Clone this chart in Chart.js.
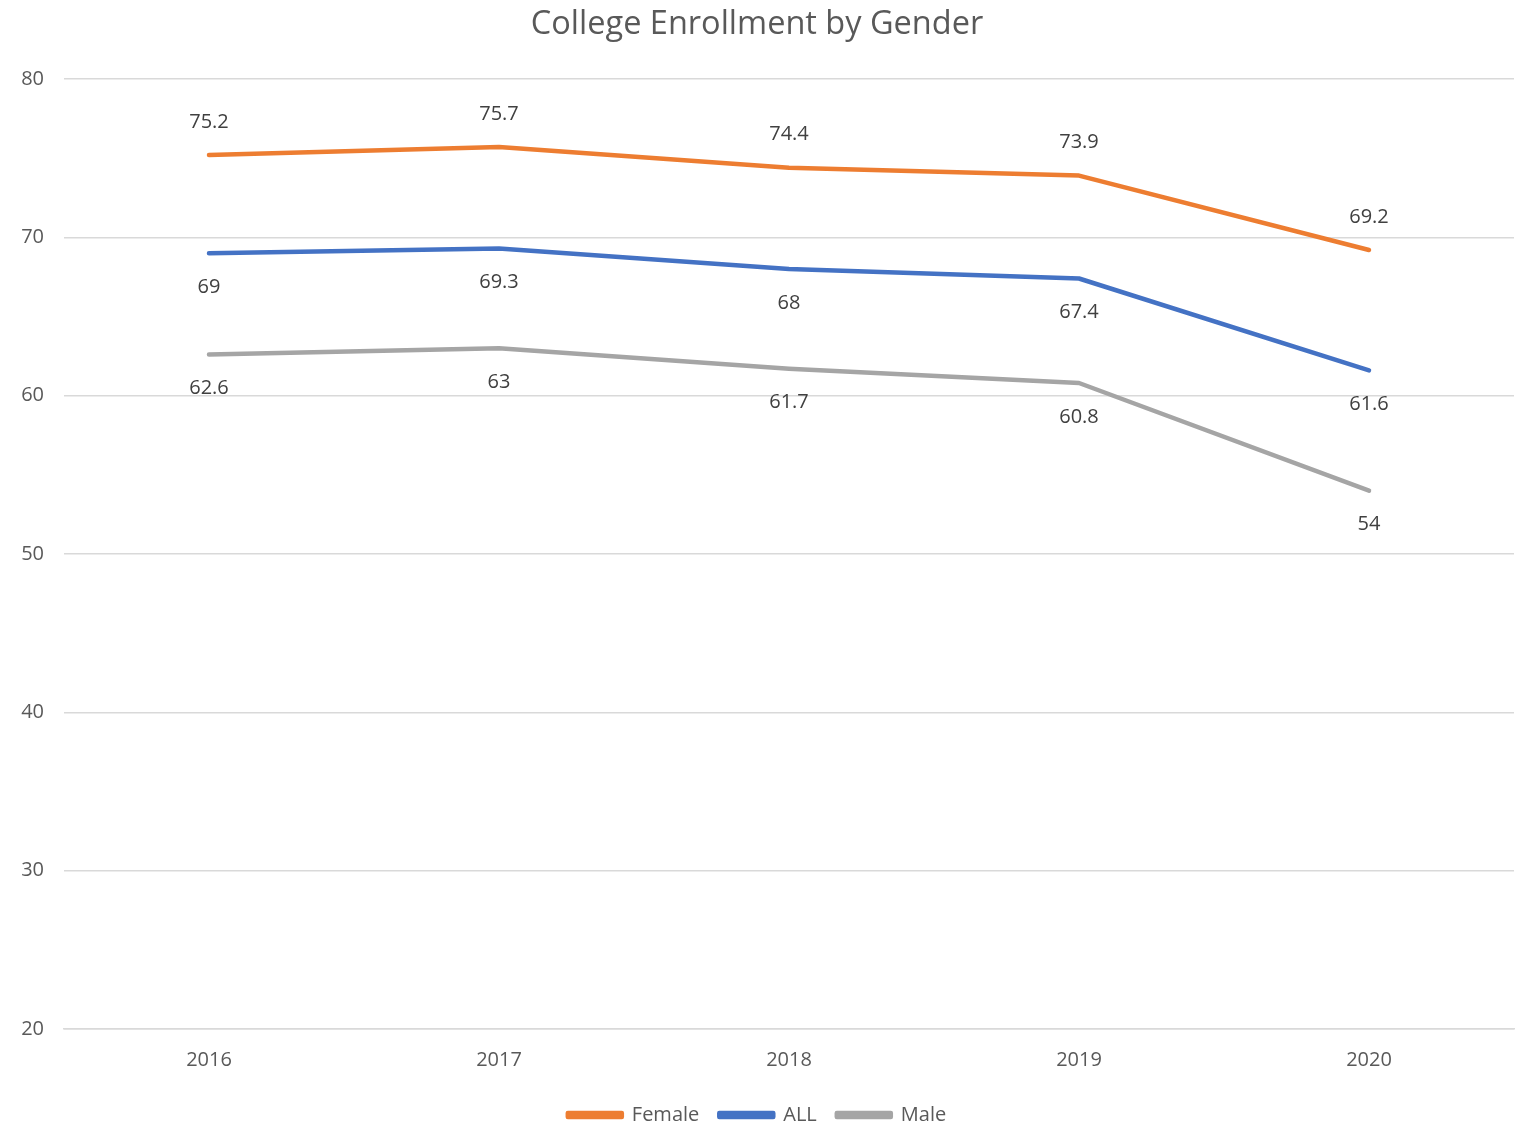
<!DOCTYPE html>
<html>
<head>
<meta charset="utf-8">
<script src="https://cdn.jsdelivr.net/npm/chart.js@4"></script>
<style>
  html, body { margin: 0; padding: 0; background: #ffffff; }
  #wrap { width: 1524px; height: 1124px; }
</style>
</head>
<body>
<div id="wrap"><canvas id="enrollChart"></canvas></div>
<script>
// chart data
const years = ['2016', '2017', '2018', '2019', '2020'];
const female = [75.2, 75.7, 74.4, 73.9, 69.2];
const all = [69, 69.3, 68, 67.4, 61.6];
const male = [62.6, 63, 61.7, 60.8, 54];
const yTicks = [20, 30, 40, 50, 60, 70, 80];

const FONT = '"Open Sans", "Noto Sans", sans-serif';

// draws the value labels above / below each point
const valueLabels = {
    id: 'valueLabels',
    afterDatasetsDraw(chart) {
        const ctx = chart.ctx;
        ctx.save();
        ctx.font = '20px ' + FONT;
        ctx.fillStyle = '#404040';
        ctx.textAlign = 'center';
        ctx.textBaseline = 'middle';
        chart.data.datasets.forEach((ds, i) => {
            const meta = chart.getDatasetMeta(i);
            meta.data.forEach((pt, j) => {
                const dy = ds.labelPos === 'above' ? -33 : 34;
                ctx.fillText(String(ds.data[j]), pt.x, pt.y + dy);
            });
        });
        ctx.restore();
    }
};

const ctx = document.getElementById('enrollChart').getContext('2d');

const enrollChart = new Chart(ctx, {
    type: 'line',
    data: {
        labels: years,
        datasets: [
            { label: 'Female', data: female, borderColor: '#ED7D31', backgroundColor: '#ED7D31', labelPos: 'above' },
            { label: 'ALL', data: all, borderColor: '#4472C4', backgroundColor: '#4472C4', labelPos: 'below' },
            { label: 'Male', data: male, borderColor: '#A5A5A5', backgroundColor: '#A5A5A5', labelPos: 'below' }
        ]
    },
    options: {
        responsive: true,
        maintainAspectRatio: false,
        animation: false,
        layout: { padding: { left: 0, right: 10, top: 0, bottom: -11 } },
        elements: {
            line: { borderWidth: 4.5, tension: 0, borderCapStyle: 'round', borderJoinStyle: 'round' },
            point: { radius: 0, hoverRadius: 0 }
        },
        plugins: {
            title: {
                display: true,
                text: 'College Enrollment by Gender',
                color: '#595959',
                font: { family: FONT, size: 32.5, weight: 'normal' },
                padding: { top: 5, bottom: 35 }
            },
            legend: {
                position: 'bottom',
                labels: {
                    color: '#595959',
                    font: { family: FONT, size: 20 },
                    boxWidth: 54,
                    boxHeight: 4,
                    padding: 20
                }
            },
            tooltip: { enabled: false }
        },
        scales: {
            x: {
                offset: true,
                grid: { display: false },
                border: { display: true, color: '#d9d9d9', width: 1.5 },
                ticks: { color: '#595959', font: { family: FONT, size: 20 }, padding: 11 },
                afterFit: axis => { axis.height += 2; }
            },
            y: {
                min: 20,
                max: 80,
                afterBuildTicks: axis => { axis.ticks = yTicks.map(v => ({ value: v })); },
                afterFit: axis => { axis.width = 64; },
                grid: { color: '#d9d9d9', lineWidth: 1.5, drawTicks: false },
                border: { display: false },
                ticks: { color: '#595959', font: { family: FONT, size: 20 }, padding: 20 }
            }
        }
    },
    plugins: [valueLabels]
});
</script>
</body>
</html>
